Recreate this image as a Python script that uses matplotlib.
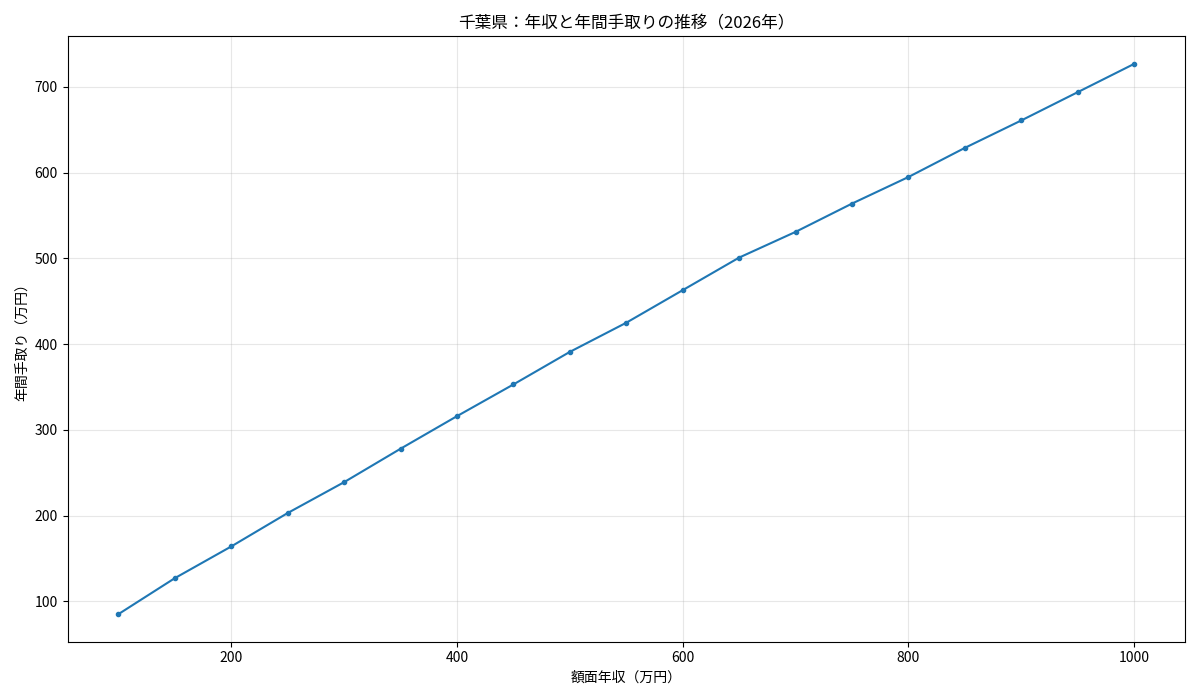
import matplotlib
matplotlib.use("Agg")
import matplotlib.pyplot as plt

plt.rcParams['font.family'] = ['Noto Sans CJK JP', 'DejaVu Sans']

income = [100, 150, 200, 250, 300, 350, 400, 450, 500, 550, 600, 650, 700, 750, 800, 850, 900, 950, 1000]
takehome = [85, 127, 164, 203, 239, 278, 316, 353, 391, 425, 463, 501, 531, 564, 595, 629, 661, 694, 727]

title = "千葉県：年収と年間手取りの推移（2026年）"
xlabel = "額面年収（万円）"
ylabel = "年間手取り（万円）"

fig, ax = plt.subplots(figsize=(12, 7), dpi=100)
ax.plot(income, takehome, marker='o', markersize=3, color='#1f77b4', linewidth=1.5)
ax.set_title(title, fontsize=12)
ax.set_xlabel(xlabel)
ax.set_ylabel(ylabel)
ax.grid(True, alpha=0.3)
fig.tight_layout()
fig.savefig("out.png")
